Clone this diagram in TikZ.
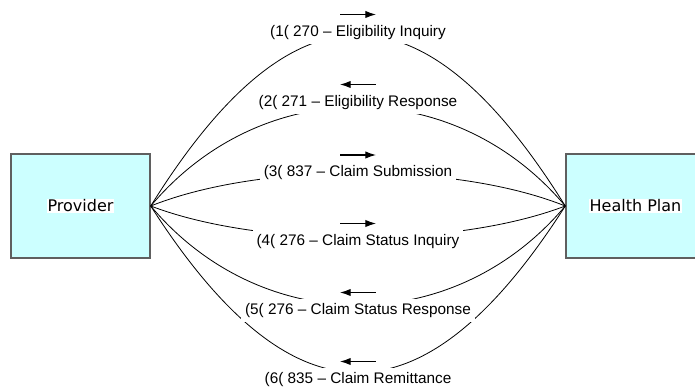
\documentclass[tikz,border=0pt]{standalone}
\usepackage{fontspec}
\setmainfont{Liberation Sans}
\newfontfamily\partyfont{DejaVu Sans}
\usetikzlibrary{arrows.meta}
\definecolor{partyfill}{HTML}{CCFFFF}
\definecolor{partyedge}{HTML}{5F5F5F}

\begin{document}
\begin{tikzpicture}[x=0.75pt,y=-0.75pt,>={Latex[length=8pt,width=5.5pt]},
    party/.style={draw=partyedge,line width=1.1pt,fill=partyfill,
        minimum width=104.25pt,minimum height=78pt,inner sep=0pt},
    partyname/.style={fill=white,inner sep=0.5pt,
        font=\partyfont\fontsize{12}{14}\selectfont},
    msg/.style={fill=white,inner sep=3pt,font=\fontsize{11.5}{13}\selectfont},
    link/.style={line width=0.6pt}]
        \useasboundingbox (0,0) rectangle (695,388);

        % the two parties
        \node[party] (prov) at (80.5,206) {};
        \node[partyname] (provname) at (prov.center) {Provider};
        \node[party] (hp) at (635.5,206) {};
        \node[partyname] (hpname) at (hp.center) {Health Plan};

        % one curve for each transaction
        \foreach \a/\h in {142/-228, 111/-132, 110/-44, 110/42, 111/132, 142/222}
                \draw[link] (prov.east) .. controls +(\a,\h) and +(-\a,\h) .. (hp.west);

        % the transaction labels
        \foreach \n/\y/\txt in {
            1/32.5/{(1( 270 – Eligibility Inquiry},
            2/102.5/{(2( 271 – Eligibility Response},
            3/173/{(3( 837 – Claim Submission},
            4/241.5/{(4( 276 – Claim Status Inquiry},
            5/310.5/{(5( 276 – Claim Status Response},
            6/379.5/{(6( 835 – Claim Remittance}}
                \node[msg] (m\n) at (358,\y) {\txt};

        % direction of each transaction
        \foreach \n/\dir in {1/->, 2/<-, 3/->, 4/->, 5/<-, 6/<-}
                \draw[\dir,line width=0.8pt] ([shift={(-18,-18)}]m\n.center)
                    -- ([shift={(18,-18)}]m\n.center);
\end{tikzpicture}
\end{document}
